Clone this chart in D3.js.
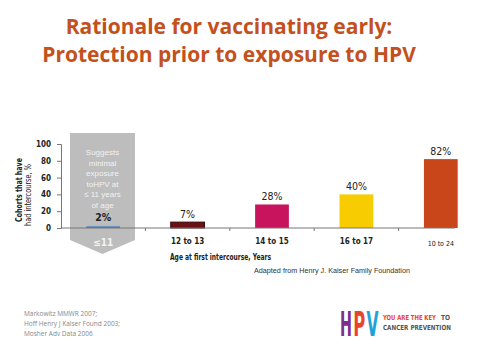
<!DOCTYPE html>
<html><head><meta charset="utf-8">
<script src="https://cdn.jsdelivr.net/npm/d3@7"></script>
<style>body{margin:0;background:#fff}svg{display:block}</style>
</head><body><svg id="c" width="498" height="359"></svg>
<script>
const categories = ["≤11", "12 to 13", "14 to 15", "16 to 17", "10 to 24"];
const values = [2, 7, 28, 40, 82];
const valueLabels = ["2%", "7%", "28%", "40%", "82%"];
const barColors = ["#4a7fc0", "#6b1014", "#c8145c", "#f7cc00", "#c8461a"];
const yTicks = [0, 20, 40, 60, 80, 100];
const titleLines = ["Rationale for vaccinating early:", "Protection prior to exposure to HPV"];
const noteLines = ["Suggests", "minimal", "exposure", "toHPV at", "≤ 11 years", "of age"];
const citations = ["Markowitz MMWR 2007;", "Hoff Henry J Kaiser Found 2003;", "Mosher Adv Data 2006"];

const COND = "DejaVu Sans Condensed, sans-serif";
const svg = d3.select("#c");
const x = d3.scaleBand().domain(categories).range([61, 483]).paddingInner(0.6).paddingOuter(0.3);
const y = d3.scaleLinear().domain([0, 100]).range([228, 144]);

// title
svg.selectAll("text.title").data(titleLines).join("text")
  .attr("x", 229).attr("y", (d, i) => 34 + i * 28)
  .attr("text-anchor", "middle").attr("font-family", "Open Sans, sans-serif")
  .attr("font-weight", "bold").attr("font-size", 21).attr("fill", "#c4501c").text(d => d);

// gray arrow
const b0 = x.step();
const gx0 = x(categories[0]) - (b0 - x.bandwidth()) / 2 + 9;
const gx1 = gx0 + 65;
const gtop = y(100) - 11, gbody = 240, gtip = 254;
svg.append("path")
  .attr("d", `M${gx0},${gtop}H${gx1}V${gbody}L${(gx0 + gx1) / 2},${gtip}L${gx0},${gbody}Z`)
  .attr("fill", "#bdbdbd");
svg.selectAll("text.note").data(noteLines).join("text")
  .attr("x", (gx0 + gx1) / 2).attr("y", (d, i) => 155 + i * 10.5)
  .attr("text-anchor", "middle").attr("font-family", "Liberation Sans, Arial, sans-serif")
  .attr("font-size", 8).attr("fill", "#f2f2f2").text(d => d);

// y axis
const yAxis = svg.append("g").attr("transform", "translate(61,0)")
  .call(d3.axisLeft(y).tickValues(yTicks).tickSize(4).tickPadding(6));
yAxis.select(".domain").attr("stroke", "#777");
yAxis.selectAll(".tick line").attr("stroke", "#777");
yAxis.selectAll("text").attr("font-family", COND)
  .attr("font-weight", "bold").attr("font-size", 8).attr("fill", "#222");

// y title
const yt = svg.append("g").attr("transform", "translate(22,190) rotate(-90)");
yt.append("text").attr("text-anchor", "middle").attr("font-family", COND)
  .attr("font-weight", "bold").attr("font-size", 9).attr("fill", "#222")
  .attr("textLength", 64).attr("lengthAdjust", "spacingAndGlyphs").text("Cohorts that have");
yt.append("text").attr("x", -5).attr("y", 8.5).attr("text-anchor", "middle").attr("font-family", COND)
  .attr("font-size", 8.5).attr("fill", "#222")
  .attr("textLength", 62).attr("lengthAdjust", "spacingAndGlyphs").text("had intercourse, %");

// bars
svg.selectAll("rect.bar").data(values).join("rect")
  .attr("x", (d, i) => x(categories[i])).attr("width", x.bandwidth())
  .attr("y", d => y(d)).attr("height", d => y(0) - y(d))
  .attr("fill", (d, i) => barColors[i])
  .attr("stroke", (d, i) => i === 1 ? "#3a0608" : "none").attr("stroke-width", 1);

// x axis line and ticks
svg.append("line").attr("x1", 61).attr("x2", 455).attr("y1", y(0)).attr("y2", y(0)).attr("stroke", "#777");
svg.selectAll("line.xt").data(categories.slice(1)).join("line")
  .attr("x1", d => x(d) - x.step() * x.paddingInner() / 2).attr("x2", d => x(d) - x.step() * x.paddingInner() / 2)
  .attr("y1", y(0)).attr("y2", y(0) + 3).attr("stroke", "#777");

// value labels
svg.selectAll("text.val").data(values).join("text")
  .attr("x", (d, i) => x(categories[i]) + x.bandwidth() / 2)
  .attr("y", (d, i) => i === 0 ? 221 : y(d) - 4)
  .attr("text-anchor", "middle").attr("font-family", COND)
  .attr("font-weight", (d, i) => i === 0 ? "bold" : "normal")
  .attr("font-size", 10.5).attr("fill", "#222").text((d, i) => valueLabels[i]);

// category labels
svg.selectAll("text.cat").data(categories).join("text")
  .attr("x", d => x(d) + x.bandwidth() / 2)
  .attr("y", (d, i) => i === 0 ? 246 : i === 4 ? 246 : 244)
  .attr("text-anchor", "middle").attr("font-family", COND)
  .attr("font-weight", (d, i) => i === 4 ? "normal" : "bold")
  .attr("font-size", (d, i) => i === 4 ? 7 : i === 0 ? 10 : 8)
  .attr("fill", (d, i) => i === 0 ? "#f2f2f2" : "#222").text(d => d);

// x title and source
svg.append("text").attr("x", 170).attr("y", 260).attr("font-family", COND)
  .attr("font-weight", "bold").attr("font-size", 9).attr("fill", "#222")
  .attr("textLength", 101).attr("lengthAdjust", "spacingAndGlyphs").text("Age at first intercourse, Years");
svg.append("text").attr("x", 254).attr("y", 273).attr("font-family", "Liberation Sans, Arial, sans-serif")
  .attr("font-size", 7.5).attr("fill", "#333")
  .attr("textLength", 156).attr("lengthAdjust", "spacingAndGlyphs").text("Adapted from Henry J. Kaiser Family Foundation");

// citations
svg.selectAll("text.cit").data(citations).join("text")
  .attr("x", 24).attr("y", (d, i) => 316 + i * 10)
  .attr("font-family", "Open Sans, sans-serif").attr("font-size", 6.5).attr("fill", "#888").text(d => d);

// logo: texts squeezed horizontally by a transform to fit a target width
function fitText(tx, ty, width, size, color, str) {
  const t = svg.append("text").attr("font-family", COND).attr("font-weight", "bold")
    .attr("font-size", size).attr("fill", color).text(str);
  const len = t.node().getComputedTextLength();
  t.attr("transform", `translate(${tx},${ty}) scale(${width / len},1)`);
  return t;
}
const logoLetters = [["H", "#7b2d8e"], ["P", "#e8452c"], ["V", "#1ea3d8"]];
logoLetters.forEach((d, i) => fitText(340 + i * 13.2, 336, 12, 34, d[1], d[0]));
fitText(383, 320, 53, 7, "#e8452c", "YOU ARE THE KEY");
fitText(441, 320, 9, 7, "#555", "TO");
fitText(383, 330, 68, 7, "#555", "CANCER PREVENTION");
</script></body></html>
